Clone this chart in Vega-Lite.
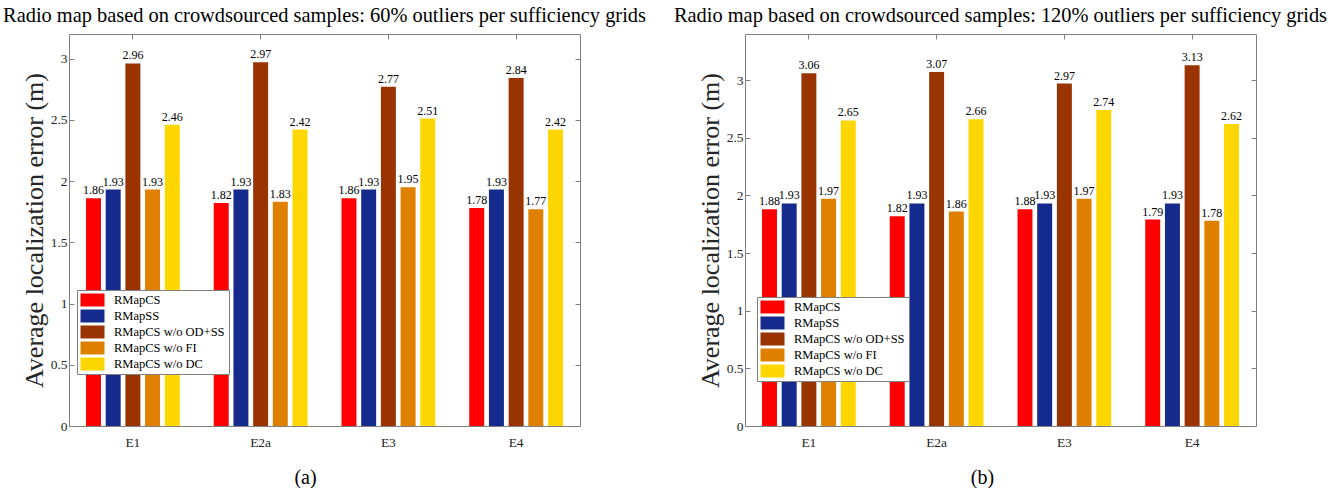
{
  "$schema": "https://vega.github.io/schema/vega-lite/v6.json",
  "background": "white",
  "padding": {"left": 3, "top": 6, "right": 0, "bottom": 0},
  "data": {"values": [
    {"panel": "a", "group": "E1", "series": "RMapCS", "value": 1.86},
    {"panel": "a", "group": "E1", "series": "RMapSS", "value": 1.93},
    {"panel": "a", "group": "E1", "series": "RMapCS w/o OD+SS", "value": 2.96},
    {"panel": "a", "group": "E1", "series": "RMapCS w/o FI", "value": 1.93},
    {"panel": "a", "group": "E1", "series": "RMapCS w/o DC", "value": 2.46},
    {"panel": "a", "group": "E2a", "series": "RMapCS", "value": 1.82},
    {"panel": "a", "group": "E2a", "series": "RMapSS", "value": 1.93},
    {"panel": "a", "group": "E2a", "series": "RMapCS w/o OD+SS", "value": 2.97},
    {"panel": "a", "group": "E2a", "series": "RMapCS w/o FI", "value": 1.83},
    {"panel": "a", "group": "E2a", "series": "RMapCS w/o DC", "value": 2.42},
    {"panel": "a", "group": "E3", "series": "RMapCS", "value": 1.86},
    {"panel": "a", "group": "E3", "series": "RMapSS", "value": 1.93},
    {"panel": "a", "group": "E3", "series": "RMapCS w/o OD+SS", "value": 2.77},
    {"panel": "a", "group": "E3", "series": "RMapCS w/o FI", "value": 1.95},
    {"panel": "a", "group": "E3", "series": "RMapCS w/o DC", "value": 2.51},
    {"panel": "a", "group": "E4", "series": "RMapCS", "value": 1.78},
    {"panel": "a", "group": "E4", "series": "RMapSS", "value": 1.93},
    {"panel": "a", "group": "E4", "series": "RMapCS w/o OD+SS", "value": 2.84},
    {"panel": "a", "group": "E4", "series": "RMapCS w/o FI", "value": 1.77},
    {"panel": "a", "group": "E4", "series": "RMapCS w/o DC", "value": 2.42},
    {"panel": "b", "group": "E1", "series": "RMapCS", "value": 1.88},
    {"panel": "b", "group": "E1", "series": "RMapSS", "value": 1.93},
    {"panel": "b", "group": "E1", "series": "RMapCS w/o OD+SS", "value": 3.06},
    {"panel": "b", "group": "E1", "series": "RMapCS w/o FI", "value": 1.97},
    {"panel": "b", "group": "E1", "series": "RMapCS w/o DC", "value": 2.65},
    {"panel": "b", "group": "E2a", "series": "RMapCS", "value": 1.82},
    {"panel": "b", "group": "E2a", "series": "RMapSS", "value": 1.93},
    {"panel": "b", "group": "E2a", "series": "RMapCS w/o OD+SS", "value": 3.07},
    {"panel": "b", "group": "E2a", "series": "RMapCS w/o FI", "value": 1.86},
    {"panel": "b", "group": "E2a", "series": "RMapCS w/o DC", "value": 2.66},
    {"panel": "b", "group": "E3", "series": "RMapCS", "value": 1.88},
    {"panel": "b", "group": "E3", "series": "RMapSS", "value": 1.93},
    {"panel": "b", "group": "E3", "series": "RMapCS w/o OD+SS", "value": 2.97},
    {"panel": "b", "group": "E3", "series": "RMapCS w/o FI", "value": 1.97},
    {"panel": "b", "group": "E3", "series": "RMapCS w/o DC", "value": 2.74},
    {"panel": "b", "group": "E4", "series": "RMapCS", "value": 1.79},
    {"panel": "b", "group": "E4", "series": "RMapSS", "value": 1.93},
    {"panel": "b", "group": "E4", "series": "RMapCS w/o OD+SS", "value": 3.13},
    {"panel": "b", "group": "E4", "series": "RMapCS w/o FI", "value": 1.78},
    {"panel": "b", "group": "E4", "series": "RMapCS w/o DC", "value": 2.62}
  ]},
  "bounds": "flush",
  "spacing": 165,
  "hconcat": [
    {
      "width": 511, "height": 392,
      "title": {"text": "Radio map based on crowdsourced samples: 60% outliers per sufficiency grids"},
      "transform": [{"filter": "datum.panel == 'a'"}],
      "layer": [
        {
          "mark": {"type": "bar"},
          "encoding": {
            "x": {"field": "group", "type": "nominal", "sort": ["E1", "E2a", "E3", "E4"],
                  "scale": {"paddingInner": 0, "paddingOuter": 0},
                  "axis": {"orient": "bottom", "title": "(a)", "labelAngle": 0, "ticks": false, "labelPadding": 9, "titlePadding": 19, "titleX": 236, "titleFontSize": 20, "titleColor": "black"}},
            "xOffset": {"field": "series", "type": "nominal",
                  "sort": ["RMapCS", "RMapSS", "RMapCS w/o OD+SS", "RMapCS w/o FI", "RMapCS w/o DC"],
                  "scale": {"paddingInner": 0.24, "paddingOuter": 0.8625}},
            "y": {"field": "value", "type": "quantitative", "scale": {"domain": [0, 3.2], "nice": false, "zero": true},
                  "axis": {"orient": "left", "title": "Average localization error (m)", "values": [0, 0.5, 1, 1.5, 2, 2.5, 3], "format": ".1~f", "titleFontSize": 26, "titlePadding": 3}},
            "color": {"field": "series", "type": "nominal",
                  "scale": {"domain": ["RMapCS", "RMapSS", "RMapCS w/o OD+SS", "RMapCS w/o FI", "RMapCS w/o DC"],
                            "range": ["#FF0000", "#142A8C", "#993300", "#E08000", "#FFD700"]},
                  "legend": {"orient": "none", "legendX": 8, "legendY": 256}}
          }
        },
        {
          "mark": {"type": "text", "baseline": "bottom", "dy": -1, "font": "Liberation Serif", "fontSize": 12, "color": "black"},
          "encoding": {
            "x": {"field": "group", "type": "nominal", "sort": ["E1", "E2a", "E3", "E4"],
                  "axis": {"orient": "top", "labels": false, "title": null}},
            "xOffset": {"field": "series", "type": "nominal",
                  "sort": ["RMapCS", "RMapSS", "RMapCS w/o OD+SS", "RMapCS w/o FI", "RMapCS w/o DC"]},
            "y": {"field": "value", "type": "quantitative",
                  "axis": {"orient": "right", "labels": false, "title": null, "values": [0, 0.5, 1, 1.5, 2, 2.5, 3]}},
            "text": {"field": "value", "type": "quantitative", "format": ".2f"}
          }
        }
      ],
      "resolve": {"axis": {"x": "independent", "y": "independent"}}
    },
    {
      "width": 511, "height": 392,
      "title": {"text": "Radio map based on crowdsourced samples: 120% outliers per sufficiency grids"},
      "transform": [{"filter": "datum.panel == 'b'"}],
      "layer": [
        {
          "mark": {"type": "bar"},
          "encoding": {
            "x": {"field": "group", "type": "nominal", "sort": ["E1", "E2a", "E3", "E4"],
                  "scale": {"paddingInner": 0, "paddingOuter": 0},
                  "axis": {"orient": "bottom", "title": "(b)", "labelAngle": 0, "ticks": false, "labelPadding": 9, "titlePadding": 19, "titleX": 237, "titleFontSize": 20, "titleColor": "black"}},
            "xOffset": {"field": "series", "type": "nominal",
                  "sort": ["RMapCS", "RMapSS", "RMapCS w/o OD+SS", "RMapCS w/o FI", "RMapCS w/o DC"],
                  "scale": {"paddingInner": 0.24, "paddingOuter": 0.8625}},
            "y": {"field": "value", "type": "quantitative", "scale": {"domain": [0, 3.4], "nice": false, "zero": true},
                  "axis": {"orient": "left", "title": "Average localization error (m)", "values": [0, 0.5, 1, 1.5, 2, 2.5, 3], "format": ".1~f", "titleFontSize": 26, "titlePadding": 3}},
            "color": {"field": "series", "type": "nominal",
                  "scale": {"domain": ["RMapCS", "RMapSS", "RMapCS w/o OD+SS", "RMapCS w/o FI", "RMapCS w/o DC"],
                            "range": ["#FF0000", "#142A8C", "#993300", "#E08000", "#FFD700"]},
                  "legend": {"orient": "none", "legendX": 12, "legendY": 263}}
          }
        },
        {
          "mark": {"type": "text", "baseline": "bottom", "dy": -1, "font": "Liberation Serif", "fontSize": 12, "color": "black"},
          "encoding": {
            "x": {"field": "group", "type": "nominal", "sort": ["E1", "E2a", "E3", "E4"],
                  "axis": {"orient": "top", "labels": false, "title": null}},
            "xOffset": {"field": "series", "type": "nominal",
                  "sort": ["RMapCS", "RMapSS", "RMapCS w/o OD+SS", "RMapCS w/o FI", "RMapCS w/o DC"]},
            "y": {"field": "value", "type": "quantitative",
                  "axis": {"orient": "right", "labels": false, "title": null, "values": [0, 0.5, 1, 1.5, 2, 2.5, 3]}},
            "text": {"field": "value", "type": "quantitative", "format": ".2f"}
          }
        }
      ],
      "resolve": {"axis": {"x": "independent", "y": "independent"}}
    }
  ],
  "resolve": {"scale": {"color": "independent"}},
  "config": {
    "view": {"stroke": null},
    "font": "Liberation Serif",
    "title": {"font": "Liberation Serif", "fontSize": 20.4, "fontWeight": "normal", "color": "black", "offset": 7, "anchor": "middle"},
    "axis": {"grid": false, "domainColor": "#808080", "tickColor": "#808080", "tickSize": -5, "labelPadding": 7,
             "labelFont": "Liberation Serif", "labelFontSize": 13.5, "labelColor": "#262626",
             "titleFont": "Liberation Serif", "titleFontWeight": "normal", "titleColor": "#262626", "zindex": 1},
    "legend": {"title": null, "labelFont": "Liberation Serif", "labelFontSize": 12.5, "labelColor": "black",
               "symbolType": "M-1.846,-1H1.846V1H-1.846Z", "symbolSize": 169, "symbolOffset": 5.5, "symbolStrokeWidth": 0, "symbolOpacity": 1,
               "strokeColor": "#808080", "fillColor": "white", "padding": 3.5, "rowPadding": 3, "labelOffset": 15}
  }
}
